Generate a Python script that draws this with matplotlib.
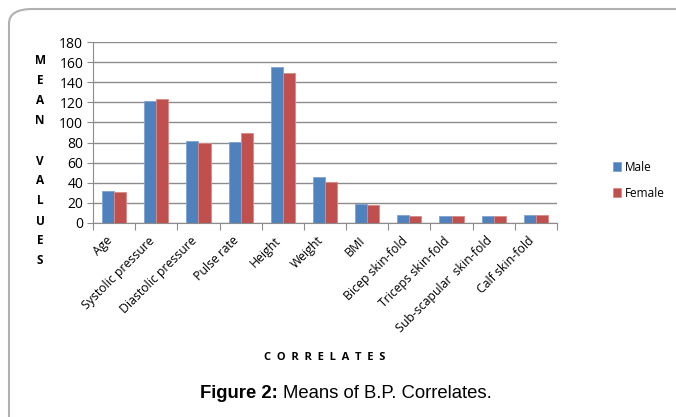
import matplotlib
matplotlib.use("Agg")
import matplotlib.pyplot as plt
import numpy as np
from matplotlib.patches import FancyBboxPatch

categories = ["Age", "Systolic pressure", "Diastolic pressure", "Pulse rate", "Height",
              "Weight", "BMI", "Bicep skin-fold", "Triceps skin-fold",
              "Sub-scapular  skin-fold", "Calf skin-fold"]
male = [32, 121, 81.5, 81, 155, 45.5, 19, 8, 7, 7, 8]
female = [30.5, 123, 80, 90, 149, 40.5, 17.5, 7, 7, 7, 8]
y_ticks = [0, 20, 40, 60, 80, 100, 120, 140, 160, 180]

W, H = 676, 417
fig = plt.figure(figsize=(W / 100, H / 100), dpi=100)
fig.patch.set_facecolor("white")

# rounded frame around the figure
frame = FancyBboxPatch((9 / W, -0.2), 1.2, 1.2 - 9 / H,
                       boxstyle="round,pad=0,rounding_size=0.035",
                       transform=fig.transFigure, fill=False,
                       edgecolor="#b0b0b0", linewidth=1.5)
fig.patches.append(frame)

ax = fig.add_axes([93 / W, 1 - 223 / H, (557 - 93) / W, (223 - 42) / H])
x = np.arange(len(categories))
bw = 1 / 3.5
ax.bar(x - bw / 2, male, bw, color="#4F81BD", edgecolor="#7fa3d3", linewidth=0.6,
       label="Male", zorder=3)
ax.bar(x + bw / 2, female, bw, color="#C0504D", edgecolor="#d98a88", linewidth=0.6,
       label="Female", zorder=3)

ax.set_xlim(-0.5, len(categories) - 0.5)
ax.set_ylim(0, 180)
ax.set_yticks(y_ticks)
ax.set_yticklabels([str(v) for v in y_ticks], fontsize=10, family="Open Sans")
ax.yaxis.grid(True, color="#8c8c8c", linewidth=1)
ax.set_axisbelow(True)
for s in ["top", "right"]:
    ax.spines[s].set_visible(False)
ax.spines["left"].set_color("#8c8c8c")
ax.spines["bottom"].set_color("#8c8c8c")
ax.tick_params(axis="y", length=4, color="#8c8c8c", pad=3)

# category boundary ticks under the x axis
ax.set_xticks(np.arange(-0.5, len(categories) + 0.5, 1), minor=False)
ax.set_xticklabels([])
ax.tick_params(axis="x", length=5, color="#8c8c8c")
for xi, name in zip(x, categories):
    ax.annotate(name, xy=(xi, 0), xycoords="data",
                xytext=(-6, -8), textcoords="offset points",
                rotation=45, ha="right", va="top", rotation_mode="anchor",
                fontsize=8.8, family="Open Sans")

# vertically stacked y-axis title
letters = "MEAN VALUES"
for i, ch in enumerate(letters):
    if ch == " ":
        continue
    fig.text(40 / W, 1 - (61 + 20 * i) / H, ch, ha="center", va="center",
             fontsize=8.5, fontweight="bold", family="Open Sans")

fig.text(325 / W, 1 - 358 / H, "C  O  R  R  E  L  A  T  E  S", ha="center",
         va="center", fontsize=8, fontweight="bold", family="Open Sans")

leg = fig.legend(loc="upper left", bbox_to_anchor=(602 / W, 1 - 150 / H),
                 frameon=False, handlelength=0.7, handleheight=0.7,
                 handletextpad=0.3, labelspacing=1.1,
                 prop={"family": "Open Sans", "size": 8.5})

# caption with bold prefix
t1 = fig.text(200 / W, 1 - 394 / H, "Figure 2:", ha="left", va="center",
              fontsize=13.3, fontweight="bold", family="Liberation Sans")
fig.canvas.draw()
bb = t1.get_window_extent()
fig.text(bb.x1 / W + 5 / W, 1 - 394 / H, "Means of B.P. Correlates.", ha="left",
         va="center", fontsize=13.3, family="Liberation Sans")

fig.savefig("out.png", dpi=100)
